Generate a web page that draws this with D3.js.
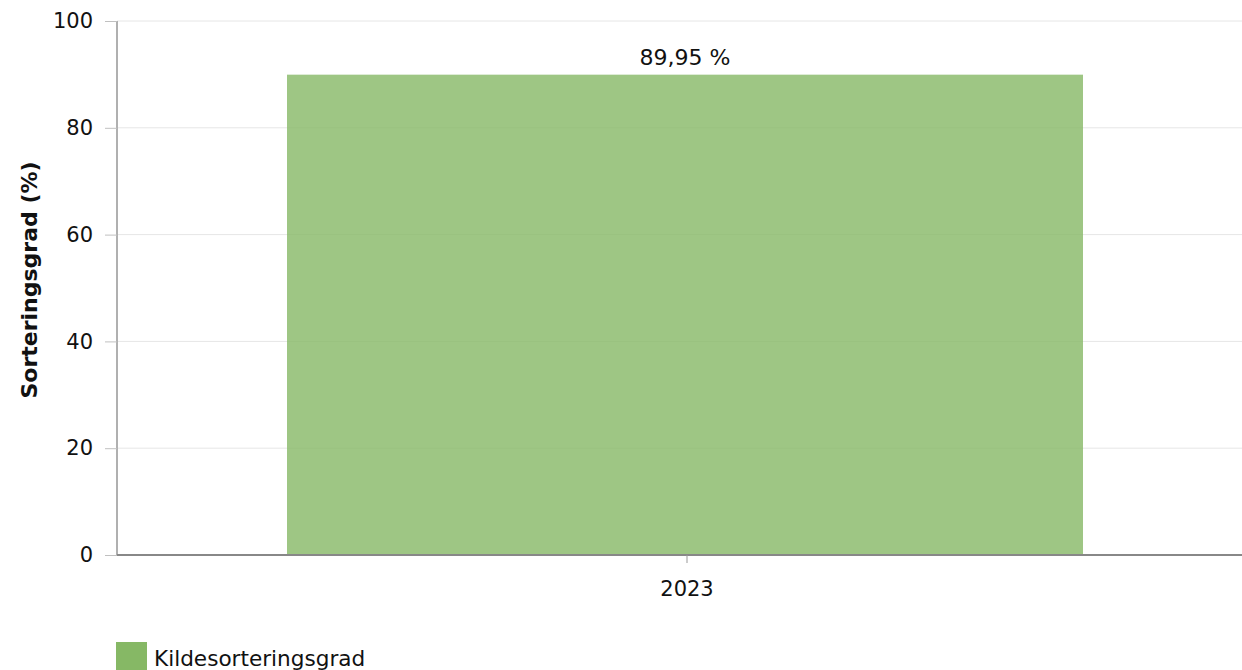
<!DOCTYPE html>
<html><head><meta charset="utf-8">
<script src="https://cdn.jsdelivr.net/npm/d3@7"></script>
<style>body{margin:0;background:#fff}svg{display:block;font-family:"DejaVu Sans",Verdana,sans-serif}</style>
</head><body>
<svg id="c" width="1242" height="670"></svg>
<script>
const categories = ["2023"];
const values = [89.95];
const yTicks = [0, 20, 40, 60, 80, 100];
const seriesName = "Kildesorteringsgrad";
const yTitle = "Sorteringsgrad (%)";

(function () {
const FS = 21;
const svg = d3.select("#c");
const pL = 117, pR = 1257, pT = 21, pB = 555;
const x = d3.scaleBand().domain(categories).range([pL, pR]).paddingInner(0.3).paddingOuter(0.15);
const y = d3.scaleLinear().domain([0, 100]).range([pB, pT]);

// gridlines
svg.append("g").selectAll("line").data(yTicks.filter(d => d > 0)).join("line")
  .attr("x1", pL).attr("x2", 1242).attr("y1", d => y(d)).attr("y2", d => y(d))
  .attr("stroke", "#e6e6e6").attr("stroke-width", 1);

// y axis
const ya = svg.append("g").attr("transform", `translate(${pL},0)`)
  .call(d3.axisLeft(y).tickValues(yTicks).tickSize(12).tickPadding(12));
ya.attr("font-size", null).attr("font-family", null);
ya.select(".domain").attr("stroke", "#b0b0b0").attr("stroke-width", 2).attr("d", `M0,${pT}V${pB}`);
ya.selectAll(".tick line").attr("stroke", "#c0c0c0");
ya.selectAll(".tick text").style("font-size", FS + "px").attr("fill", "#111");

// bars
const bw = 796;
svg.append("g").selectAll("rect").data(values).join("rect")
  .attr("x", (d, i) => x(categories[i]) + x.bandwidth() / 2 - bw / 2 - 2)
  .attr("width", bw)
  .attr("y", d => y(d)).attr("height", d => pB - y(d))
  .attr("fill", "#86b865").attr("fill-opacity", 0.8);

// value labels
svg.append("g").selectAll("text").data(values).join("text")
  .attr("x", (d, i) => x(categories[i]) + x.bandwidth() / 2 - 2)
  .attr("y", d => y(d) - 10)
  .attr("text-anchor", "middle").style("font-size", "22px").attr("fill", "#111")
  .text(d => d3.format(".2f")(d).replace(".", ",") + " %");

// x axis
const xa = svg.append("g").attr("transform", `translate(0,${pB})`)
  .call(d3.axisBottom(x).tickSize(8).tickPadding(18));
xa.attr("font-size", null).attr("font-family", null);
xa.select(".domain").attr("stroke", "#888").attr("stroke-width", 2).attr("d", `M${pL},0H1242`);
xa.selectAll(".tick line").attr("stroke", "#999");
xa.selectAll(".tick text").style("font-size", FS + "px").attr("fill", "#111");

// y title
svg.append("text").attr("transform", `translate(37,280) rotate(-90)`)
  .attr("text-anchor", "middle").style("font-size", "22px").attr("font-weight", "bold").attr("fill", "#111")
  .text(yTitle);

// legend
svg.append("rect").attr("x", 116).attr("y", 642).attr("width", 31).attr("height", 28).attr("fill", "#86b865");
svg.append("text").attr("x", 154).attr("y", 666).style("font-size", "21.6px").attr("fill", "#111").text(seriesName);
})();
</script>
</body></html>
